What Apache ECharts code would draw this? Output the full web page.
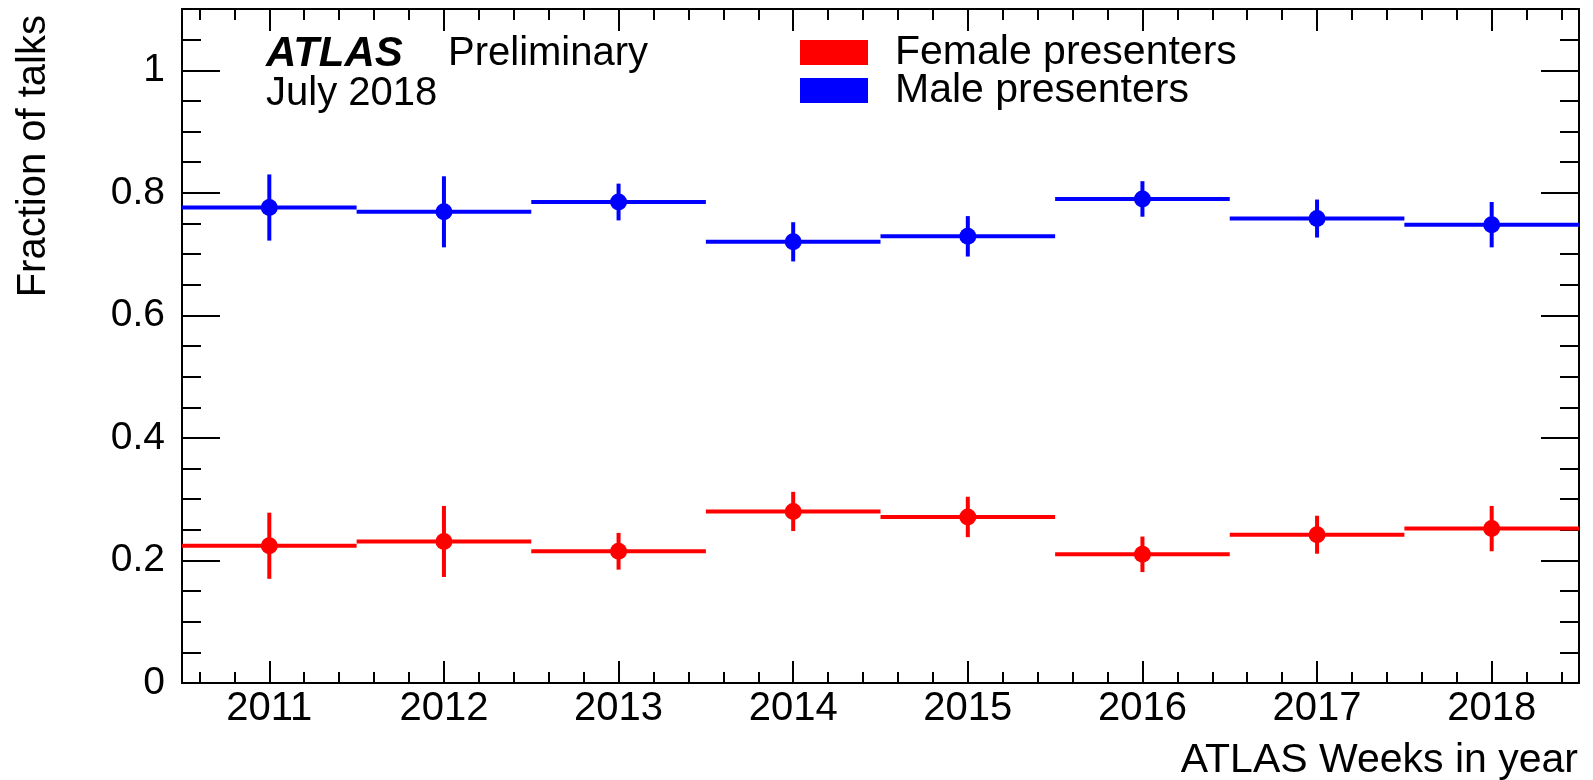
<!DOCTYPE html>
<html>
<head>
<meta charset="utf-8">
<script src="https://cdn.jsdelivr.net/npm/echarts@6/dist/echarts.min.js"></script>
<style>
html,body{margin:0;padding:0;background:#fff;}
#chart{width:1593px;height:780px;}
</style>
</head>
<body>
<div id="chart"></div>
<script>
// ---- data ----
const years = [2011, 2012, 2013, 2014, 2015, 2016, 2017, 2018];
const femaleFraction = [0.224, 0.231, 0.215, 0.280, 0.271, 0.210, 0.242, 0.252];
const maleFraction   = [0.776, 0.769, 0.785, 0.720, 0.729, 0.790, 0.758, 0.748];
const fractionError  = [0.054, 0.058, 0.030, 0.032, 0.033, 0.029, 0.031, 0.037];
const yMajorTicks = [0, 0.2, 0.4, 0.6, 0.8, 1];
const seriesNames = ['Female presenters', 'Male presenters'];

const FONT = '"Liberation Sans", Arial, Helvetica, sans-serif';
const FS = 39;
const RED = '#ff0000', BLUE = '#0000ff';

// minor tick positions
const xMinorTicks = [];
for (let i = 0; i < years.length; i++) {
  for (const d of [-0.4, -0.2, 0.2, 0.4]) xMinorTicks.push(+(years[i] + d).toFixed(2));
}
const yMinorTicks = [];
for (let k = 1; k <= 21; k++) { if (k % 4 !== 0) yMinorTicks.push(+(k * 0.05).toFixed(2)); }

const xMin = years[0] - 0.5, xMax = years[years.length - 1] + 0.5;

function mkData(vals) { return years.map((y, i) => [y, vals[i], fractionError[i]]); }

function makeRender(color) {
  return function (params, api) {
    const x = api.value(0), y = api.value(1), e = api.value(2);
    const pL = api.coord([x - 0.5, y]), pR = api.coord([x + 0.5, y]);
    const pT = api.coord([x, y + e]), pB = api.coord([x, y - e]);
    const c = api.coord([x, y]);
    return {
      type: 'group',
      children: [
        { type: 'line', shape: { x1: pL[0], y1: pL[1], x2: pR[0], y2: pR[1] }, style: { stroke: color, lineWidth: 4 } },
        { type: 'line', shape: { x1: pT[0], y1: pT[1], x2: pB[0], y2: pB[1] }, style: { stroke: color, lineWidth: 4 } },
        { type: 'circle', shape: { cx: c[0], cy: c[1], r: 8.5 }, style: { fill: color } }
      ]
    };
  };
}

const lineStyle = { color: '#000', width: 2 };
function xAx(pos, ticks, len, showLine, showLabel) {
  return {
    type: 'value', position: pos, min: xMin, max: xMax, gridIndex: 0,
    axisLine: { show: showLine, onZero: false, lineStyle },
    axisTick: { show: true, inside: true, length: len, customValues: ticks, lineStyle },
    axisLabel: showLabel ? { show: true, customValues: ticks, margin: 6, fontSize: 40, fontFamily: FONT, color: '#000', formatter: v => String(Math.round(v)) } : { show: false },
    splitLine: { show: false }
  };
}
function yAx(pos, ticks, len, showLine, showLabel) {
  return {
    type: 'value', position: pos, min: 0, max: 1.1, gridIndex: 0,
    axisLine: { show: showLine, onZero: false, lineStyle },
    axisTick: { show: true, inside: true, length: len, customValues: ticks, lineStyle },
    axisLabel: showLabel ? { show: true, customValues: ticks, margin: 17, fontSize: FS, fontFamily: FONT, color: '#000' } : { show: false },
    splitLine: { show: false }
  };
}

const option = {
  animation: false,
  backgroundColor: '#fff',
  grid: { left: 182, right: 14, top: 9, bottom: 97, containLabel: false },
  xAxis: [
    xAx('bottom', years, 22, true, true),
    xAx('bottom', xMinorTicks, 11, false, false),
    xAx('top', years, 22, true, false),
    xAx('top', xMinorTicks, 11, false, false)
  ],
  yAxis: [
    yAx('left', yMajorTicks, 38, true, true),
    yAx('left', yMinorTicks, 19, false, false),
    yAx('right', yMajorTicks, 38, true, false),
    yAx('right', yMinorTicks, 19, false, false)
  ],
  legend: {
    orient: 'vertical', left: 795, top: 27, itemGap: -3,
    itemWidth: 68, itemHeight: 25, icon: 'rect', selectedMode: false,
    data: seriesNames.map(n => ({ name: n, icon: 'rect' })),
    textStyle: { fontSize: 41, fontFamily: FONT, color: '#000', lineHeight: 36, padding: [0, 0, 0, 22] }
  },
  graphic: [
    { type: 'text', left: 266, top: 33, style: { text: 'ATLAS', font: 'italic bold 42px ' + FONT, fill: '#000' } },
    { type: 'text', left: 448, top: 34, style: { text: 'Preliminary', font: '40px ' + FONT, fill: '#000' } },
    { type: 'text', left: 266, top: 74, style: { text: 'July 2018', font: '40px ' + FONT, fill: '#000' } },
    { type: 'text', right: 15, top: 740, style: { text: 'ATLAS Weeks in year', font: '41px ' + FONT, fill: '#000' } },
    { type: 'text', left: 14, top: 15, rotation: Math.PI / 2, style: { text: 'Fraction of talks', font: '40px ' + FONT, fill: '#000' } }
  ],
  series: [
    { name: seriesNames[0], type: 'custom', xAxisIndex: 0, yAxisIndex: 0, itemStyle: { color: RED }, renderItem: makeRender(RED), data: mkData(femaleFraction), clip: true },
    { name: seriesNames[1], type: 'custom', xAxisIndex: 0, yAxisIndex: 0, itemStyle: { color: BLUE }, renderItem: makeRender(BLUE), data: mkData(maleFraction), clip: true }
  ]
};

const chart = echarts.init(document.getElementById('chart'), null, { renderer: 'canvas' });
chart.setOption(option);
</script>
</body>
</html>
